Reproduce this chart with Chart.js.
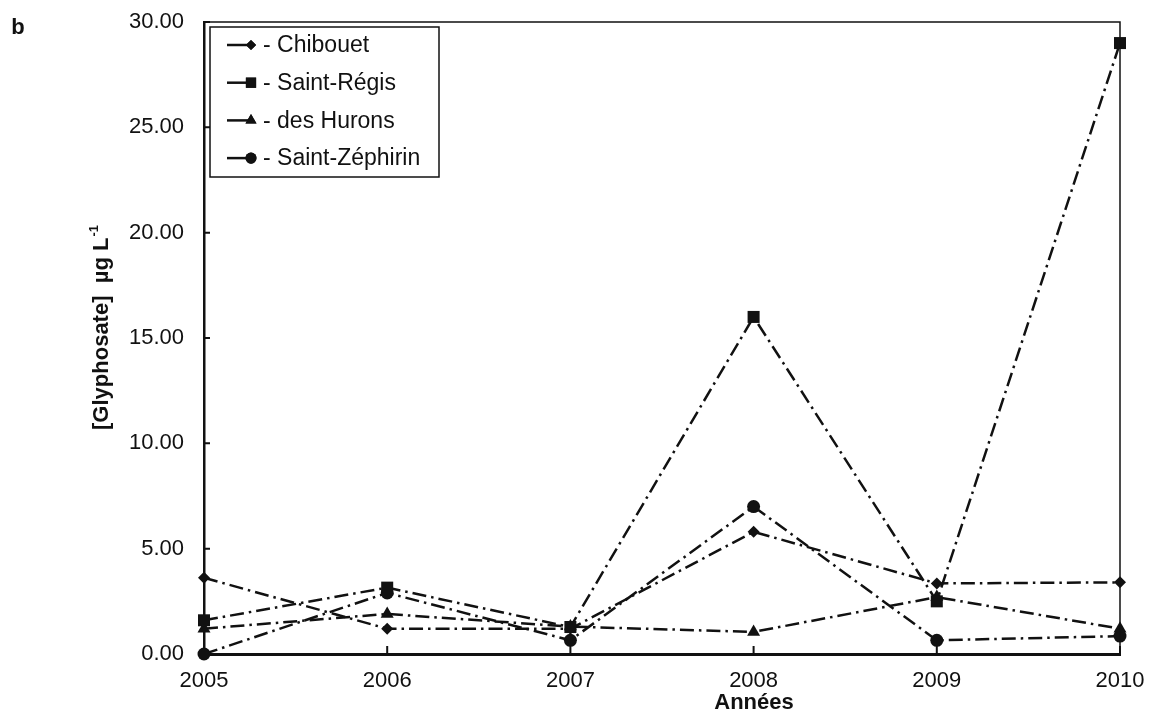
<!DOCTYPE html>
<html>
<head>
<meta charset="utf-8">
<script src="https://cdn.jsdelivr.net/npm/chart.js@4.4.1/dist/chart.umd.min.js"></script>
<style>
  body { margin: 0; background: #fff; }
  canvas { display: block; }
</style>
</head>
<body>
<canvas id="chart" width="1153" height="723"></canvas>
<script>
// values (µg/L)
const years = ["2005", "2006", "2007", "2008", "2009", "2010"];
const chibouet = [3.62, 1.2, 1.2, 5.8, 3.35, 3.4];
const saintRegis = [1.6, 3.15, 1.28, 16.0, 2.5, 29.0];
const desHurons = [1.2, 1.9, 1.3, 1.05, 2.7, 1.2];
const saintZephirin = [0.0, 2.9, 0.65, 7.0, 0.65, 0.85];
const yTicks = [0, 5, 10, 15, 20, 25, 30];

const seriesNames = ["Chibouet", "Saint-Régis", "des Hurons", "Saint-Zéphirin"];
const seriesStyles = ["rectRot", "rect", "triangle", "circle"];
const seriesRadius = [6, 8.5, 7.5, 6.5];

const INK = "#111";
const FONT = "'Liberation Sans', Arial, sans-serif";
const dash = [14, 5, 2.5, 5];

Chart.defaults.font.family = FONT;
Chart.defaults.color = INK;

const makeSet = (i, values) => ({
  label: seriesNames[i],
  data: values,
  borderColor: INK,
  backgroundColor: INK,
  borderWidth: 2.5,
  borderDash: dash,
  pointStyle: seriesStyles[i],
  pointRadius: seriesRadius[i],
  pointBackgroundColor: INK,
  pointBorderColor: INK,
  pointBorderWidth: 0,
  tension: 0,
  clip: false,
});

const decorations = {
  id: "decorations",
  beforeDraw(chart) {
    const ctx = chart.ctx;
    ctx.save();
    ctx.fillStyle = "#fff";
    ctx.fillRect(0, 0, chart.width, chart.height);
    ctx.restore();
  },
  afterDraw(chart) {
    const { ctx, chartArea: a } = chart;
    const xs = chart.scales.x;
    const ys = chart.scales.y;
    ctx.save();
    ctx.strokeStyle = INK;
    ctx.fillStyle = INK;
    ctx.setLineDash([]);

    // top and right frame
    ctx.lineWidth = 1.5;
    ctx.beginPath();
    ctx.moveTo(a.left, a.top);
    ctx.lineTo(a.right, a.top);
    ctx.lineTo(a.right, a.bottom);
    ctx.stroke();

    // inner tick marks
    ctx.lineWidth = 2;
    ctx.beginPath();
    years.forEach((_, i) => {
      const px = xs.getPixelForValue(i);
      ctx.moveTo(px, a.bottom);
      ctx.lineTo(px, a.bottom - 8);
    });
    yTicks.forEach((v) => {
      const py = ys.getPixelForValue(v);
      ctx.moveTo(a.left, py);
      ctx.lineTo(a.left + 6, py);
    });
    ctx.stroke();

    // legend box
    const lx = a.left + 6, ly = a.top + 5;
    ctx.fillStyle = "#fff";
    ctx.fillRect(lx, ly, 229, 150);
    ctx.lineWidth = 1.5;
    ctx.strokeRect(lx, ly, 229, 150);
    ctx.fillStyle = INK;
    ctx.font = "23px " + FONT;
    ctx.textBaseline = "middle";
    ctx.textAlign = "left";
    seriesNames.forEach((name, i) => {
      const y = ly + 18 + i * 37.7;
      ctx.lineWidth = 2.5;
      ctx.beginPath();
      ctx.moveTo(lx + 17, y);
      ctx.lineTo(lx + 43, y);
      ctx.stroke();
      Chart.helpers.drawPoint(ctx, {
        pointStyle: seriesStyles[i],
        radius: seriesRadius[i] * 0.85,
        rotation: 0,
        borderWidth: 0,
      }, lx + 41, y);
      ctx.fill();
      ctx.fillText("- " + name, lx + 53, y + 1);
    });

    // axis titles
    ctx.font = "bold 22px " + FONT;
    ctx.textAlign = "center";
    ctx.fillText("Années", 754, 703);

    ctx.save();
    ctx.translate(102, 328);
    ctx.rotate(-Math.PI / 2);
    const main = "[Glyphosate]  µg L";
    ctx.font = "bold 22px " + FONT;
    const w1 = ctx.measureText(main).width;
    ctx.font = "bold 13px " + FONT;
    const w2 = ctx.measureText("-1").width;
    const start = -(w1 + w2) / 2;
    ctx.textAlign = "left";
    ctx.font = "bold 22px " + FONT;
    ctx.fillText(main, start, 0);
    ctx.font = "bold 13px " + FONT;
    ctx.fillText("-1", start + w1 + 1, -8);
    ctx.restore();

    // panel letter
    ctx.font = "bold 22px " + FONT;
    ctx.textAlign = "center";
    ctx.fillText("b", 18, 28);
    ctx.restore();
  },
};

new Chart(document.getElementById("chart"), {
  type: "line",
  data: {
    labels: years,
    datasets: [
      makeSet(0, chibouet),
      makeSet(1, saintRegis),
      makeSet(2, desHurons),
      makeSet(3, saintZephirin),
    ],
  },
  options: {
    responsive: false,
    animation: false,
    layout: { padding: { top: 22, right: 33, left: 0, bottom: 0 } },
    plugins: {
      legend: { display: false },
      tooltip: { enabled: false },
    },
    scales: {
      x: {
        type: "category",
        offset: false,
        grid: { display: false, drawTicks: false },
        border: { display: true, color: INK, width: 3 },
        ticks: { font: { size: 22 }, color: INK, padding: 14, maxRotation: 0 },
        afterFit: (s) => {
          s.height = 69;
          s.paddingLeft = 0;
          s.paddingRight = 0;
        },
      },
      y: {
        min: 0,
        max: 30,
        grid: { display: false, drawTicks: false },
        border: { display: true, color: INK, width: 2.5 },
        ticks: {
          stepSize: 5,
          font: { size: 22 },
          color: INK,
          padding: 20,
          callback: (v) => Number(v).toFixed(2),
        },
        afterFit: (s) => {
          s.width = 204;
          s.paddingTop = 0;
          s.paddingBottom = 0;
        },
      },
    },
  },
  plugins: [decorations],
});
</script>
</body>
</html>
